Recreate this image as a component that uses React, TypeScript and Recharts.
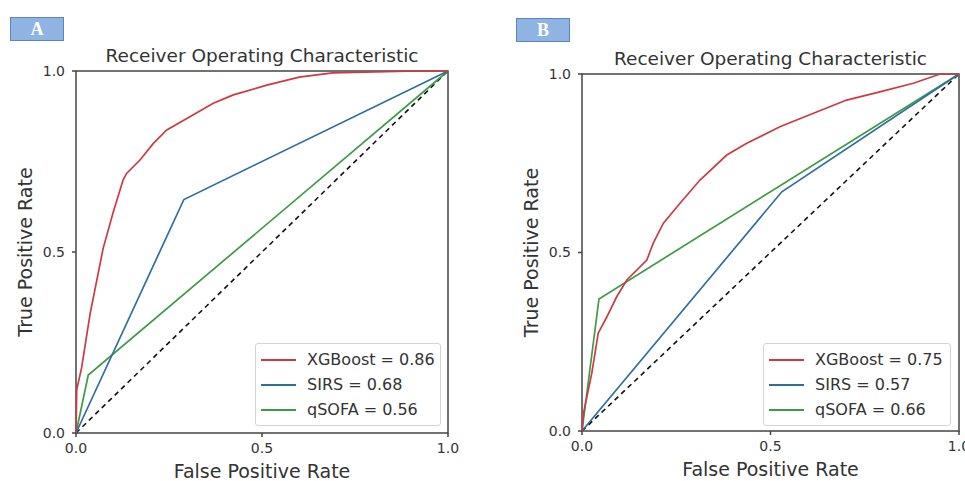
import * as React from "react"
import {
  LineChart,
  Line,
  XAxis,
  YAxis,
  Legend,
  ReferenceArea,
} from "recharts"

// panel A — ROC points
const xgbA = [
  { fpr: 0, tpr: 0 },
  { fpr: 0.002, tpr: 0.12 },
  { fpr: 0.015, tpr: 0.18 },
  { fpr: 0.038, tpr: 0.33 },
  { fpr: 0.073, tpr: 0.51 },
  { fpr: 0.1, tpr: 0.61 },
  { fpr: 0.127, tpr: 0.7 },
  { fpr: 0.136, tpr: 0.717 },
  { fpr: 0.172, tpr: 0.754 },
  { fpr: 0.208, tpr: 0.8 },
  { fpr: 0.244, tpr: 0.837 },
  { fpr: 0.298, tpr: 0.869 },
  { fpr: 0.369, tpr: 0.911 },
  { fpr: 0.423, tpr: 0.934 },
  { fpr: 0.513, tpr: 0.961 },
  { fpr: 0.6, tpr: 0.983 },
  { fpr: 0.69, tpr: 0.995 },
  { fpr: 0.92, tpr: 1 },
  { fpr: 1, tpr: 1 },
]
const sirsA = [
  { fpr: 0, tpr: 0 },
  { fpr: 0.29, tpr: 0.645 },
  { fpr: 1, tpr: 1 },
]
const qsofaA = [
  { fpr: 0, tpr: 0 },
  { fpr: 0.033, tpr: 0.16 },
  { fpr: 1, tpr: 1 },
]

// panel B
const xgbB = [
  { fpr: 0, tpr: 0 },
  { fpr: 0.004, tpr: 0.05 },
  { fpr: 0.026, tpr: 0.162 },
  { fpr: 0.043, tpr: 0.274 },
  { fpr: 0.066, tpr: 0.32 },
  { fpr: 0.092, tpr: 0.376 },
  { fpr: 0.119, tpr: 0.423 },
  { fpr: 0.172, tpr: 0.479 },
  { fpr: 0.189, tpr: 0.526 },
  { fpr: 0.216, tpr: 0.582 },
  { fpr: 0.26, tpr: 0.638 },
  { fpr: 0.313, tpr: 0.703 },
  { fpr: 0.384, tpr: 0.773 },
  { fpr: 0.437, tpr: 0.806 },
  { fpr: 0.525, tpr: 0.852 },
  { fpr: 0.614, tpr: 0.89 },
  { fpr: 0.702, tpr: 0.927 },
  { fpr: 0.79, tpr: 0.95 },
  { fpr: 0.879, tpr: 0.974 },
  { fpr: 0.95, tpr: 1 },
  { fpr: 1, tpr: 1 },
]
const sirsB = [
  { fpr: 0, tpr: 0 },
  { fpr: 0.53, tpr: 0.67 },
  { fpr: 1, tpr: 1 },
]
const qsofaB = [
  { fpr: 0, tpr: 0 },
  { fpr: 0.045, tpr: 0.37 },
  { fpr: 1, tpr: 1 },
]

const chance = [
  { fpr: 0, tpr: 0 },
  { fpr: 1, tpr: 1 },
]

const TICKS = [0, 0.5, 1]
const aucA = { xgb: "0.86", sirs: "0.68", qsofa: "0.56" }
const aucB = { xgb: "0.75", sirs: "0.57", qsofa: "0.66" }

const RED = "#cc3a44"
const BLUE = "#2f6f9f"
const GREEN = "#3f9a46"
const AXIS = "#444"
const TEXT = "#333"
const FONT = "'DejaVu Sans', sans-serif"

function RocLegend({ payload }: any) {
  const items = (payload || []).filter((p: any) => p.type !== "none")
  return (
    <div
      style={{
        border: "1px solid #d4d4d4",
        borderRadius: 3,
        background: "rgba(255,255,255,0.85)",
        padding: "3px 6px 3px 5px",
        fontFamily: FONT,
        fontSize: 16,
        color: TEXT,
        textAlign: "left",
        whiteSpace: "nowrap",
        boxSizing: "border-box",
      }}
    >
      {items.map((p: any) => (
        <div key={p.value} style={{ display: "flex", alignItems: "center", height: 25 }}>
          <span style={{ display: "inline-block", flex: "none", width: 35, height: 2, background: p.color, marginRight: 11 }} />
          <span style={{ flex: "none" }}>{p.value}</span>
        </div>
      ))}
    </div>
  )
}

type PanelProps = {
  left: number
  width: number
  margin: { top: number; right: number; bottom: number; left: number }
  xgb: { fpr: number; tpr: number }[]
  sirs: { fpr: number; tpr: number }[]
  qsofa: { fpr: number; tpr: number }[]
  auc: { xgb: string; sirs: string; qsofa: string }
  legendPos: { left: number; top: number; width: number }
}

function RocPanel({ left, width, margin, xgb, sirs, qsofa, auc, legendPos }: PanelProps) {
  const tick = { fill: TEXT, fontSize: 14, fontFamily: FONT }
  return (
    <div style={{ position: "absolute", left, top: 0 }}>
      <LineChart width={width} height={481} margin={margin}>
        <XAxis
          type="number"
          dataKey="fpr"
          domain={[0, 1]}
          ticks={TICKS}
          interval={0}
          tickFormatter={(v: number) => v.toFixed(1)}
          axisLine={false}
          tickLine={{ stroke: AXIS, strokeWidth: 1.5 }}
          tickSize={4}
          tickMargin={6}
          height={40}
          tick={tick}
          label={{
            value: "False Positive Rate",
            position: "insideBottom",
            offset: -5,
            style: { fill: TEXT, fontSize: 19, fontFamily: FONT },
          }}
        />
        <YAxis
          type="number"
          dataKey="tpr"
          domain={[0, 1]}
          ticks={TICKS}
          interval={0}
          tickFormatter={(v: number) => v.toFixed(1)}
          axisLine={false}
          tickLine={{ stroke: AXIS, strokeWidth: 1.5 }}
          tickSize={4}
          tickMargin={7}
          width={40}
          tick={tick}
          label={{
            value: "True Positive Rate",
            angle: -90,
            position: "insideLeft",
            offset: -11,
            style: { textAnchor: "middle", fill: TEXT, fontSize: 19, fontFamily: FONT },
          }}
        />
        <ReferenceArea
          x1={0}
          x2={1}
          y1={0}
          y2={1}
          fill="none"
          stroke={AXIS}
          strokeWidth={1.5}
          label={{
            value: "Receiver Operating Characteristic",
            position: "top",
            offset: 9,
            style: { fill: TEXT, fontSize: 18.5, fontFamily: FONT },
          }}
        />
        <Line data={chance} dataKey="tpr" stroke="#111" strokeWidth={1.6} strokeDasharray="5 4" dot={false} legendType="none" isAnimationActive={false} />
        <Line data={qsofa} dataKey="tpr" name={`qSOFA = ${auc.qsofa}`} stroke={GREEN} strokeWidth={1.7} dot={false} isAnimationActive={false} />
        <Line data={sirs} dataKey="tpr" name={`SIRS = ${auc.sirs}`} stroke={BLUE} strokeWidth={1.7} dot={false} isAnimationActive={false} />
        <Line data={xgb} dataKey="tpr" name={`XGBoost = ${auc.xgb}`} stroke={RED} strokeWidth={1.7} dot={false} isAnimationActive={false} />
        <Legend
          layout="horizontal"
          verticalAlign="middle"
          align="center"
          content={(props: any) => {
            const order = ["XGBoost", "SIRS", "qSOFA"]
            const sorted = [...(props.payload || [])].sort(
              (a: any, b: any) =>
                order.findIndex((o) => String(a.value).startsWith(o)) -
                order.findIndex((o) => String(b.value).startsWith(o))
            )
            return <RocLegend payload={sorted} />
          }}
          wrapperStyle={{ position: "absolute", ...legendPos, bottom: "auto", right: "auto" }}
        />
      </LineChart>
    </div>
  )
}

function PanelTag({ letter, left, top }: { letter: string; left: number; top: number }) {
  return (
    <div
      style={{
        position: "absolute",
        left,
        top,
        width: 52,
        height: 22,
        background: "#8fb4e3",
        border: "1px solid #5a86c0",
        color: "#fff",
        fontFamily: "'Liberation Serif', serif",
        fontWeight: "bold",
        fontSize: 18,
        lineHeight: "22px",
        textAlign: "center",
      }}
    >
      {letter}
    </div>
  )
}

export default function App() {
  return (
    <div style={{ position: "fixed", left: 0, top: 0, width: 965, height: 481, background: "#fff", overflow: "hidden" }}>
      <PanelTag letter="A" left={10} top={17} />
      <PanelTag letter="B" left={516} top={18} />
      <RocPanel
        left={0}
        width={480}
        margin={{ top: 71, right: 32, bottom: 8, left: 36 }}
        xgb={xgbA}
        sirs={sirsA}
        qsofa={qsofaA}
        auc={aucA}
        legendPos={{ left: 255, top: 343, width: 186 }}
      />
      <RocPanel
        left={480}
        width={485}
        margin={{ top: 74, right: 6, bottom: 10, left: 62 }}
        xgb={xgbB}
        sirs={sirsB}
        qsofa={qsofaB}
        auc={aucB}
        legendPos={{ left: 283, top: 343, width: 188 }}
      />
    </div>
  )
}
